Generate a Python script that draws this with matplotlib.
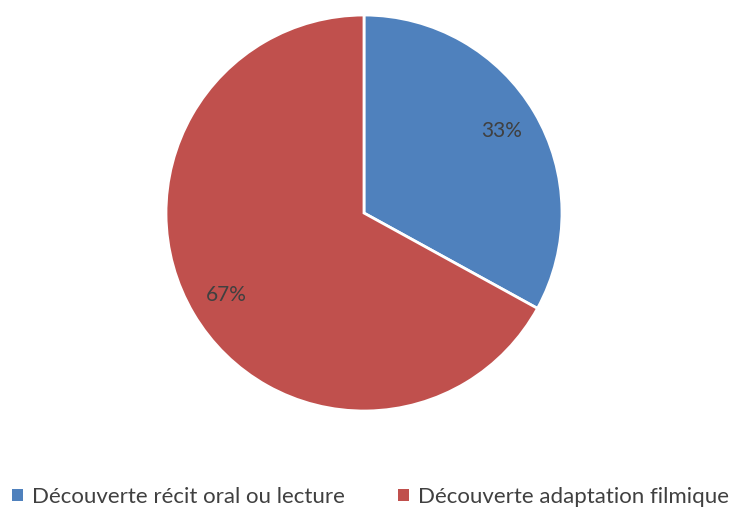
import matplotlib

matplotlib.use("Agg")
import matplotlib.pyplot as plt
from matplotlib.patches import Patch

labels = ["Découverte récit oral ou lecture", "Découverte adaptation filmique"]
values = [33, 67]
colors = ["#4F81BD", "#C0504D"]

plt.rcParams["font.family"] = ["Lato", "DejaVu Sans"]

fig = plt.figure(figsize=(7.29, 5.09), dpi=100)
ax = fig.add_axes([0.2277, 0.1925, 0.5432, 0.778])
ax.pie(
    values,
    colors=colors,
    startangle=90,
    counterclock=False,
    autopct="%1.0f%%",
    pctdistance=0.81,
    wedgeprops=dict(edgecolor="white", linewidth=2),
    textprops=dict(color="#404040", fontsize=15),
)
ax.set_xlim(-1, 1)
ax.set_ylim(-1, 1)
ax.set_aspect("equal")

handles = [Patch(facecolor=c, edgecolor="none") for c in colors]
fig.legend(
    handles,
    labels,
    loc="center",
    bbox_to_anchor=(0.508, 0.024),
    ncol=2,
    frameon=False,
    fontsize=16,
    handlelength=0.5,
    handleheight=0.5,
    handletextpad=0.4,
    columnspacing=2.4,
    labelcolor="#404040",
)

fig.savefig("out.png", dpi=100)
